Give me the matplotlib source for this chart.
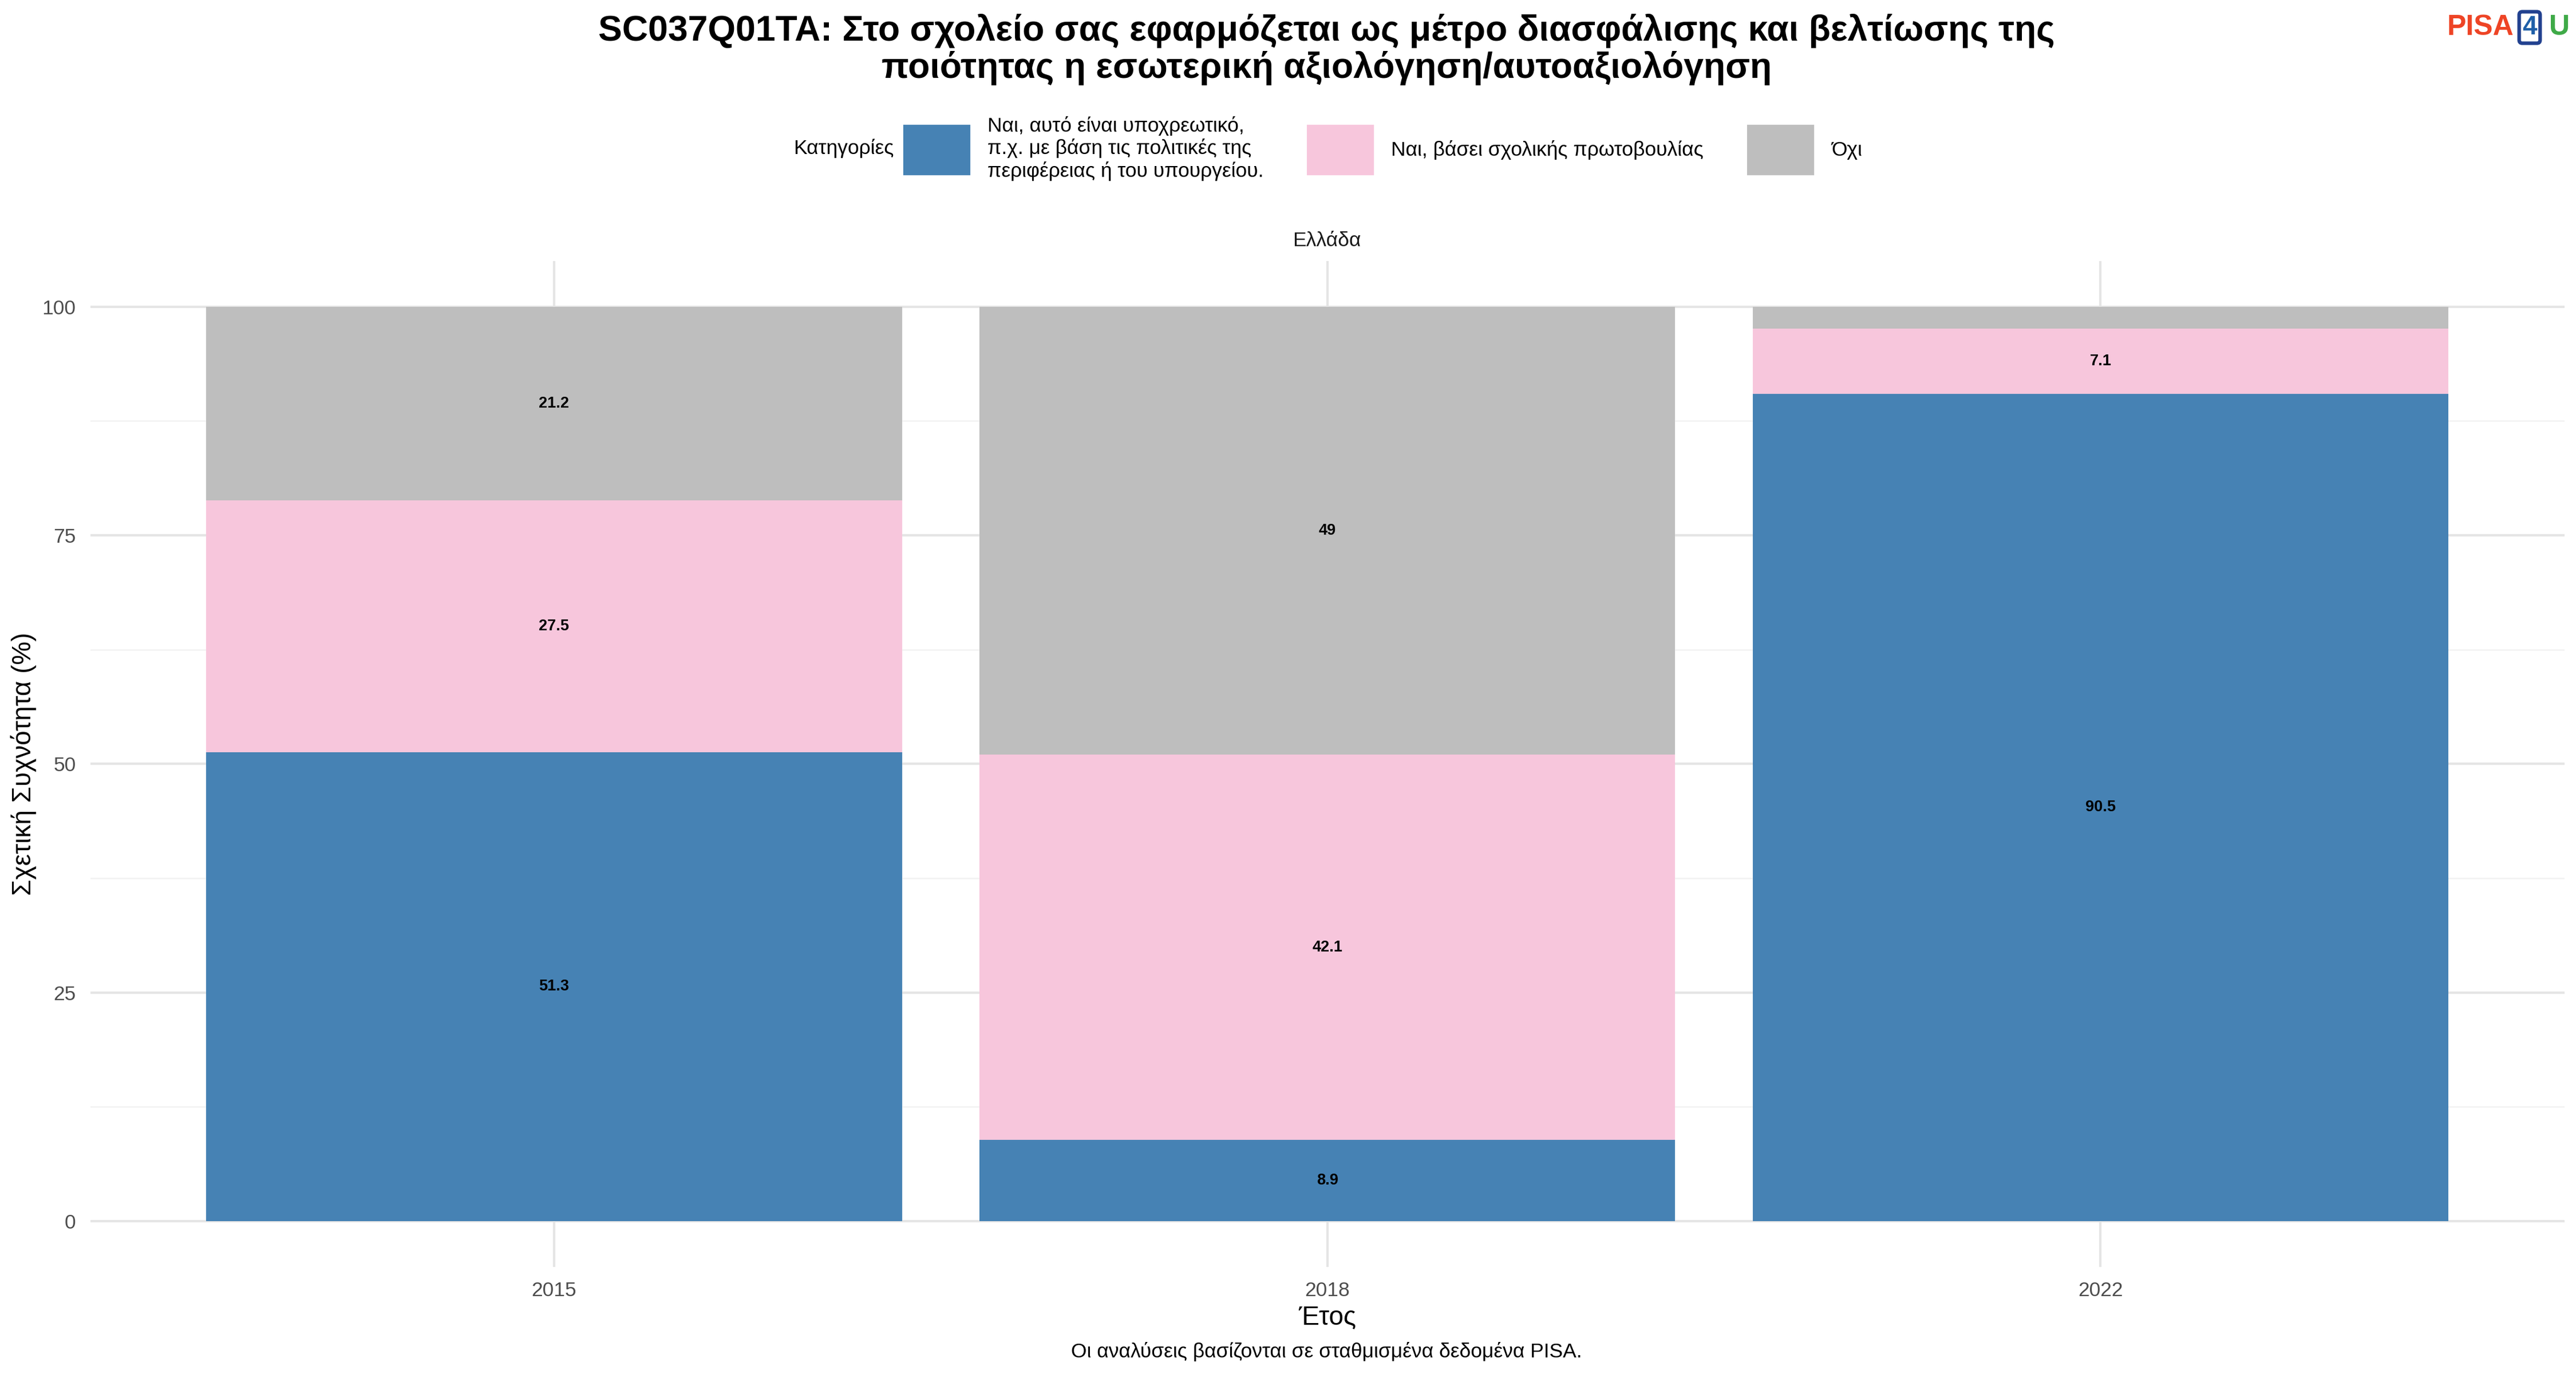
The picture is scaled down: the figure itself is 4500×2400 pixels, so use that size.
import matplotlib.pyplot as plt
from matplotlib.patches import Patch

plt.rcParams['font.family'] = ['Liberation Sans', 'DejaVu Sans']

years = ["2015", "2018", "2022"]
categories = ["Ναι, αυτό είναι υποχρεωτικό,\nπ.χ. με βάση τις πολιτικές της\nπεριφέρειας ή του υπουργείου.",
              "Ναι, βάσει σχολικής πρωτοβουλίας", "Όχι"]
colors = ["#4682B4", "#F7C6DC", "#BEBEBE"]
values = [
    [51.3, 8.9, 90.5],
    [27.5, 42.1, 7.1],
    [21.2, 49.0, 2.4],
]
labels = [
    ["51.3", "8.9", "90.5"],
    ["27.5", "42.1", "7.1"],
    ["21.2", "49", ""],
]

fig = plt.figure(figsize=(15, 8), dpi=300)
ax = fig.add_axes([0.035, 0.078, 0.9605, 0.732])

x = range(len(years))
bottom = [0, 0, 0]
for vals, labs, c in zip(values, labels, colors):
    ax.bar(x, vals, bottom=bottom, width=0.9, color=c, zorder=2)
    for i, (v, l) in enumerate(zip(vals, labs)):
        if l:
            ax.text(i, bottom[i] + v / 2, l, ha="center", va="center", fontsize=6.5, fontweight="bold", zorder=3)
    bottom = [b + v for b, v in zip(bottom, vals)]

ax.set_xlim(-0.6, 2.6)
ax.set_ylim(-5, 105)
ax.set_xticks(list(x))
ax.set_xticklabels(years)
ax.set_yticks([0, 25, 50, 75, 100])
ax.set_yticks([12.5, 37.5, 62.5, 87.5], minor=True)
ax.grid(True, which="major", color="#E5E5E5", lw=1.0, zorder=0)
ax.grid(True, which="minor", axis="y", color="#F2F2F2", lw=0.6, zorder=0)
ax.tick_params(which="both", length=0, labelsize=8.5, labelcolor="#4D4D4D", pad=6)
for s in ax.spines.values():
    s.set_visible(False)
ax.set_xlabel("Έτος", fontsize=11, labelpad=2)
ax.set_ylabel("Σχετική Συχνότητα (%)", fontsize=11, va="center")
ax.yaxis.set_label_coords(-0.027, 0.5)

fig.text(0.515, 0.825, "Ελλάδα", ha="center", va="center", fontsize=8.5, color="#1A1A1A")
fig.suptitle("SC037Q01TA: Στο σχολείο σας εφαρμόζεται ως μέτρο διασφάλισης και βελτίωσης της\nποιότητας η εσωτερική αξιολόγηση/αυτοαξιολόγηση",
             x=0.515, y=0.99, fontsize=15, fontweight="bold", linespacing=1.1)

handles = [Patch(color=c) for c in colors]
fig.legend(handles, categories, loc="center left", bbox_to_anchor=(0.351, 0.892), ncol=3, frameon=False,
           fontsize=8.5, handlelength=3.2, handleheight=3.3,
           columnspacing=2.2, handletextpad=0.9, borderpad=0, borderaxespad=0)
fig.text(0.347, 0.892, "Κατηγορίες", ha="right", va="center", fontsize=8.5)

fig.text(0.515, 0.012, "Οι αναλύσεις βασίζονται σε σταθμισμένα δεδομένα PISA.", ha="center", fontsize=8.5)

# logo
fig.text(0.950, 0.98, "PISA", color="#EE4425", fontsize=12, fontweight="bold", ha="left", va="center")
fig.text(0.982, 0.98, "4", color="#1F5FA8", fontsize=11, fontweight="bold", ha="center", va="center",
         bbox=dict(boxstyle="round,pad=0.12", fc="white", ec="#22418F", lw=1.5))
fig.text(0.9895, 0.98, "U", color="#3FAA48", fontsize=12, fontweight="bold", ha="left", va="center")

fig.savefig("out.png")
